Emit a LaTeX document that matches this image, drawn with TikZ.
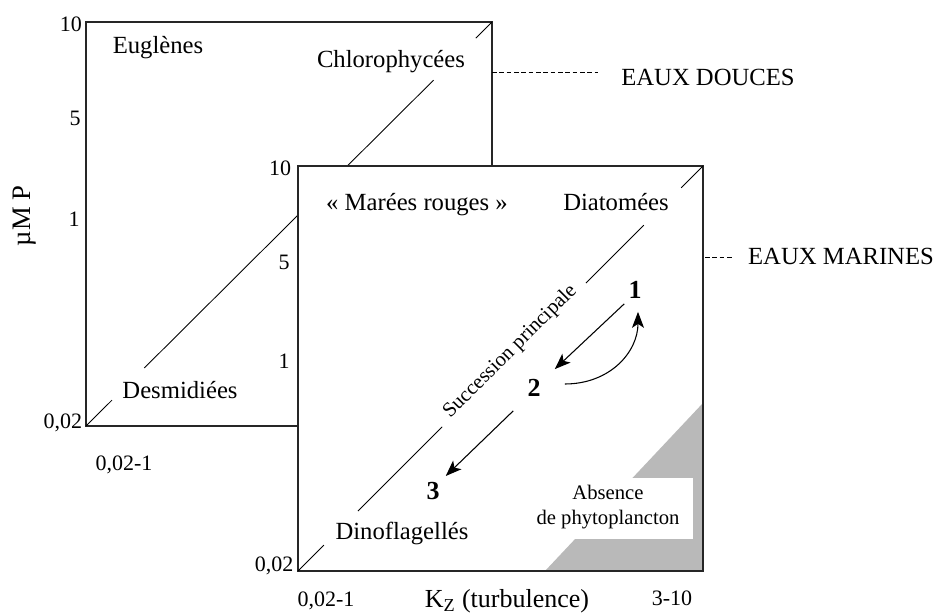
\documentclass[tikz,border=0pt]{standalone}
\usepackage{fontspec}
\setmainfont{Liberation Serif}
\usetikzlibrary{arrows.meta,calc}
\begin{document}
\begin{tikzpicture}[x=0.75pt,y=-0.75pt,
  box/.style={line width=0.9pt, draw=black!85},
  diag/.style={line width=0.65pt},
  lbl/.style={font=\fontsize{18.5}{21}\selectfont, inner sep=0pt},
  tick/.style={font=\fontsize{16.5}{19}\selectfont, inner sep=0pt},
  num/.style={font=\fontsize{19.5}{22}\selectfont\bfseries, inner sep=0pt},
  arr/.style={line width=0.8pt, -{Stealth[length=12pt,width=9pt,inset=3pt]}},
  lead/.style={dash pattern=on 3.5pt off 2pt, line width=0.6pt}]
\useasboundingbox (0,0) rectangle (940,614);
% ---------- back panel (eaux douces)
\coordinate (bTL) at (86,22);
\coordinate (bBR) at (492,426);
\coordinate (bBL) at (86,426);
\coordinate (bTR) at (492,22);
\draw[box] (bTL) rectangle (bBR);
\draw[diag] (bBL) -- ($(bBL)!0.064!(bTR)$);
\draw[diag] ($(bBL)!0.1436!(bTR)$) -- ($(bBL)!0.856!(bTR)$);
\draw[diag] ($(bBL)!0.96!(bTR)$) -- (bTR);
\node[lbl] (eug) at (158,48) {Euglènes};
\node[lbl] (chl) at (391,62) {Chlorophycées};
\node[lbl] (des) at (180,390) {Desmidiées};
\node[tick] (b10) at (71,24) {10};
\node[tick] (b5) at (75,118) {5};
\node[tick] (b1) at (74,219) {1};
\node[tick] (b002) at (63,423) {0,02};
\node[tick] (bx) at (124,465) {0,02-1};
\coordinate (dEnd) at (598,72);
\draw[lead] (492,72) -- (dEnd);
\node[lbl] (doux) at (708,77) {EAUX DOUCES};
\node[font=\fontsize{20}{22}\selectfont, inner sep=0pt, rotate=90] (ump) at (25,216) {µM P};
% ---------- front panel (eaux marines)
\coordinate (fTL) at (298,166);
\coordinate (fBR) at (703,571);
\coordinate (fBL) at (298,571);
\coordinate (fTR) at (703,166);
\fill[white] (fTL) rectangle (fBR);
\fill[gray!55] (703,403) -- (703,571) -- (545,571) -- cycle;
\fill[white] (528,478) rectangle (693,539);
\draw[box] (fTL) rectangle (fBR);
\draw[diag] (fBL) -- ($(fBL)!0.064!(fTR)$);
\draw[diag] ($(fBL)!0.148!(fTR)$) -- ($(fBL)!0.356!(fTR)$);
\draw[diag] ($(fBL)!0.711!(fTR)$) -- ($(fBL)!0.854!(fTR)$);
\draw[diag] ($(fBL)!0.946!(fTR)$) -- (fTR);
\node[font=\fontsize{15.5}{18}\selectfont, inner sep=0pt, anchor=base, rotate=45] (succ) at ($(fBL)!0.533!(fTR)$) {Succession principale};
\node[lbl] (mar) at (417,205) {« Marées rouges »};
\node[lbl] (dia) at (616,202) {Diatomées};
\node[lbl] (din) at (402,533) {Dinoflagellés};
\node[font=\fontsize{15.5}{19}\selectfont, inner sep=0pt, align=center] (abs) at (608,507) {Absence\\de phytoplancton};
\node[tick] (f10) at (280,168) {10};
\node[tick] (f5) at (284,262) {5};
\node[tick] (f1) at (284,361) {1};
\node[tick] (f002) at (274,566) {0,02};
\node[tick] (fx) at (326,601) {0,02-1};
\node[font=\fontsize{19.5}{22}\selectfont, inner sep=0pt] (kz) at (507,601) {K\textsubscript{Z} (turbulence)};
\node[tick] (fx2) at (672,598) {3-10};
\coordinate (mEnd) at (733,257);
\draw[lead] (705,257) -- (mEnd);
\node[lbl] (mar2) at (841,256) {EAUX MARINES};
% ---------- succession
\node[num] (n1) at (635,290) {1};
\node[num] (n2) at (534,388) {2};
\node[num] (n3) at (433,491) {3};
\draw[arr] (n1.south west) ++(-4,5) coordinate (a1s) -- ($(n2.north east)+(14,-10)$) coordinate (a1e);
\draw[arr] ($(n2.south west)+(-14,14)$) coordinate (a2s) -- ($(n3.north east)+(6,-6)$) coordinate (a2e);
\draw[arr] ($(n2.east)+(24,-4)$) coordinate (c1) .. controls (610,384) and (638,352) .. ($(n1.south)+(3,13)$);
\end{tikzpicture}
\end{document}
